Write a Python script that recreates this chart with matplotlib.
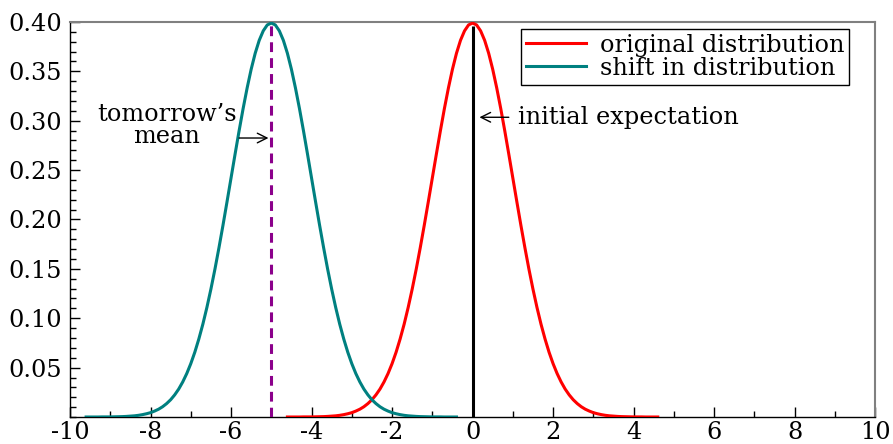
import numpy as np
import matplotlib
matplotlib.use("Agg")
import matplotlib.pyplot as plt
from matplotlib.ticker import MultipleLocator

# curve values (0.1 steps)
red_x = np.round(np.arange(-4.6, 4.61, 0.1), 1)
red_y = [0.0000, 0.0000, 0.0000, 0.0000, 0.0001, 0.0001, 0.0001, 0.0002, 0.0003, 0.0004,
         0.0006, 0.0009, 0.0012, 0.0017, 0.0024, 0.0033, 0.0044, 0.0060, 0.0079, 0.0104,
         0.0136, 0.0175, 0.0224, 0.0283, 0.0355, 0.0440, 0.0540, 0.0656, 0.0790, 0.0940,
         0.1109, 0.1295, 0.1497, 0.1714, 0.1942, 0.2179, 0.2420, 0.2661, 0.2897, 0.3123,
         0.3332, 0.3521, 0.3683, 0.3814, 0.3910, 0.3970, 0.3989, 0.3970, 0.3910, 0.3814,
         0.3683, 0.3521, 0.3332, 0.3123, 0.2897, 0.2661, 0.2420, 0.2179, 0.1942, 0.1714,
         0.1497, 0.1295, 0.1109, 0.0940, 0.0790, 0.0656, 0.0540, 0.0440, 0.0355, 0.0283,
         0.0224, 0.0175, 0.0136, 0.0104, 0.0079, 0.0060, 0.0044, 0.0033, 0.0024, 0.0017,
         0.0012, 0.0009, 0.0006, 0.0004, 0.0003, 0.0002, 0.0001, 0.0001, 0.0001, 0.0000,
         0.0000, 0.0000, 0.0000]

teal_x = np.round(np.arange(-9.6, -0.39, 0.1), 1)
teal_y = [0.0000, 0.0000, 0.0000, 0.0000, 0.0001, 0.0001, 0.0001, 0.0002, 0.0003, 0.0004,
          0.0006, 0.0009, 0.0012, 0.0017, 0.0024, 0.0033, 0.0044, 0.0060, 0.0079, 0.0104,
          0.0136, 0.0175, 0.0224, 0.0283, 0.0355, 0.0440, 0.0540, 0.0656, 0.0790, 0.0940,
          0.1109, 0.1295, 0.1497, 0.1714, 0.1942, 0.2179, 0.2420, 0.2661, 0.2897, 0.3123,
          0.3332, 0.3521, 0.3683, 0.3814, 0.3910, 0.3970, 0.3989, 0.3970, 0.3910, 0.3814,
          0.3683, 0.3521, 0.3332, 0.3123, 0.2897, 0.2661, 0.2420, 0.2179, 0.1942, 0.1714,
          0.1497, 0.1295, 0.1109, 0.0940, 0.0790, 0.0656, 0.0540, 0.0440, 0.0355, 0.0283,
          0.0224, 0.0175, 0.0136, 0.0104, 0.0079, 0.0060, 0.0044, 0.0033, 0.0024, 0.0017,
          0.0012, 0.0009, 0.0006, 0.0004, 0.0003, 0.0002, 0.0001, 0.0001, 0.0001, 0.0000,
          0.0000, 0.0000, 0.0000]

initial_mean = 0.0
initial_top = 0.396
tomorrow_mean = -5.0
tomorrow_top = 0.397

x_ticks = [-10, -8, -6, -4, -2, 0, 2, 4, 6, 8, 10]
y_ticks = [0.05, 0.10, 0.15, 0.20, 0.25, 0.30, 0.35, 0.40]

plt.rcParams.update({
    'font.family': 'DejaVu Serif',
    'font.size': 17.3,
    'axes.unicode_minus': False,
})

fig = plt.figure(figsize=(8.93, 4.44), dpi=100)
ax = fig.add_axes([0.0784, 0.0608, 0.9016, 0.8897])

ax.plot(red_x, red_y, color='#ff0000', lw=2.2, label='original distribution', zorder=3)
ax.plot(teal_x, teal_y, color='#008080', lw=2.2, label='shift in distribution', zorder=3)

ax.vlines(initial_mean, 0, initial_top, color='black', lw=2.2, zorder=4)
ax.vlines(tomorrow_mean, 0, tomorrow_top, color='#8b008b', lw=2.2,
          linestyles=(0, (3.2, 2.0)), zorder=4)

# annotations
ax.text(-7.59, 0.295, "tomorrow\u2019s\nmean", ha='center', va='center',
        linespacing=0.95)
ax.annotate('', xy=(-5.07, 0.2825), xytext=(-5.8, 0.2825),
            arrowprops=dict(arrowstyle='->', lw=1.0, color='black',
                            shrinkA=0, shrinkB=0))
ax.annotate('', xy=(0.17, 0.3035), xytext=(0.9, 0.3035),
            arrowprops=dict(arrowstyle='->', lw=1.0, color='black',
                            shrinkA=0, shrinkB=0))
ax.text(1.13, 0.3035, "initial expectation", ha='left', va='center')

ax.set_xlim(-10, 10)
ax.set_ylim(0, 0.40)
ax.set_xticks(x_ticks)
ax.set_xticklabels([str(v) for v in x_ticks])
ax.set_yticks(y_ticks)
ax.set_yticklabels(['%.2f' % v for v in y_ticks])
ax.xaxis.set_minor_locator(MultipleLocator(1))
ax.yaxis.set_minor_locator(MultipleLocator(0.01))
ax.tick_params(which='both', direction='in', top=False, right=False, color='black')
ax.tick_params(which='major', length=7, width=1, pad=3)
ax.tick_params(which='minor', length=4, width=1)
ax.tick_params(axis='y', pad=6)

for side in ['top', 'right']:
    ax.spines[side].set_color('#808080')
    ax.spines[side].set_linewidth(1.5)
for side in ['left', 'bottom']:
    ax.spines[side].set_color('black')
    ax.spines[side].set_linewidth(1.0)

leg = ax.legend(loc='upper right', bbox_to_anchor=(0.968, 0.982), borderaxespad=0,
                fancybox=False, framealpha=1, edgecolor='black', handlelength=2.5,
                handletextpad=0.6, labelspacing=0.0, borderpad=0.2)
leg.get_frame().set_linewidth(1.0)

fig.savefig('out.png', dpi=100)
